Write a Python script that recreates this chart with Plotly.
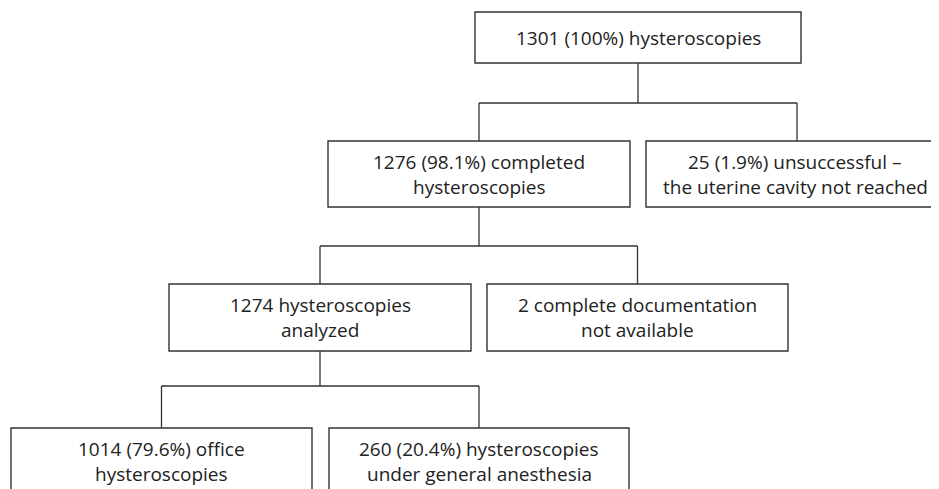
import plotly.graph_objects as go

# Flowchart content
labels = [
    ["1301 (100%) hysteroscopies"],
    ["1276 (98.1%) completed", "hysteroscopies"],
    ["25 (1.9%) unsuccessful –", "the uterine cavity not reached"],
    ["1274 hysteroscopies", "analyzed"],
    ["2 complete documentation", "not available"],
    ["1014 (79.6%) office", "hysteroscopies"],
    ["260 (20.4%) hysteroscopies", "under general anesthesia"],
]
# parent index of each box (-1 = root)
parents = [-1, 0, 0, 1, 1, 3, 3]

# layout geometry (pixels in the window)
boxes = [
    (475, 801, 12, 63),
    (328, 630, 141, 207),
    (646, 948, 141, 207),
    (169, 471, 284, 351),
    (487, 788, 284, 351),
    (11, 312, 428, 495),
    (329, 629, 428, 495),
]
conn_y = {0: 103, 1: 246, 3: 386}

LINE = "#333333"
FONT = dict(family="Open Sans", size=19, color="#222222")
OFF = 8  # page body margin

fig = go.Figure()
shapes = []
annotations = []
for i, (x0, x1, y0, y1) in enumerate(boxes):
    shapes.append(dict(type="rect", xref="x", yref="y", x0=x0, x1=x1, y0=y0, y1=y1,
                       line=dict(color=LINE, width=1.4), fillcolor="white", layer="above"))
    cx = (x0 + x1) / 2
    if i == 2:
        cx = 795
    cy = (y0 + y1) / 2
    lines = labels[i]
    n = len(lines)
    sp = 25
    for k, t in enumerate(lines):
        yy = cy + (k - (n - 1) / 2) * sp
        annotations.append(dict(x=cx, y=yy, xref="x", yref="y", text=t, showarrow=False,
                                font=FONT, xanchor="center", yanchor="middle"))

# connectors
for p in sorted(set(pp for pp in parents if pp >= 0)):
    px0, px1, py0, py1 = boxes[p]
    pcx = (px0 + px1) / 2
    cy = conn_y[p]
    kids = [i for i, pp in enumerate(parents) if pp == p]
    kcx = [(boxes[k][0] + boxes[k][1]) / 2 for k in kids]
    shapes.append(dict(type="line", xref="x", yref="y", x0=pcx, x1=pcx, y0=py1, y1=cy,
                       line=dict(color=LINE, width=1.3), layer="below"))
    shapes.append(dict(type="line", xref="x", yref="y", x0=min(kcx), x1=max(kcx), y0=cy, y1=cy,
                       line=dict(color=LINE, width=1.3), layer="below"))
    for k, x in zip(kids, kcx):
        shapes.append(dict(type="line", xref="x", yref="y", x0=x, x1=x, y0=cy, y1=boxes[k][2],
                           line=dict(color=LINE, width=1.3), layer="below"))

fig.update_layout(
    width=939 - OFF, height=489 - OFF,
    margin=dict(l=0, r=0, t=0, b=0),
    paper_bgcolor="white", plot_bgcolor="white",
    xaxis=dict(range=[OFF, 939], visible=False, fixedrange=True),
    yaxis=dict(range=[489, OFF], visible=False, fixedrange=True),
    shapes=shapes, annotations=annotations, showlegend=False,
)
fig.write_html("out.html")
